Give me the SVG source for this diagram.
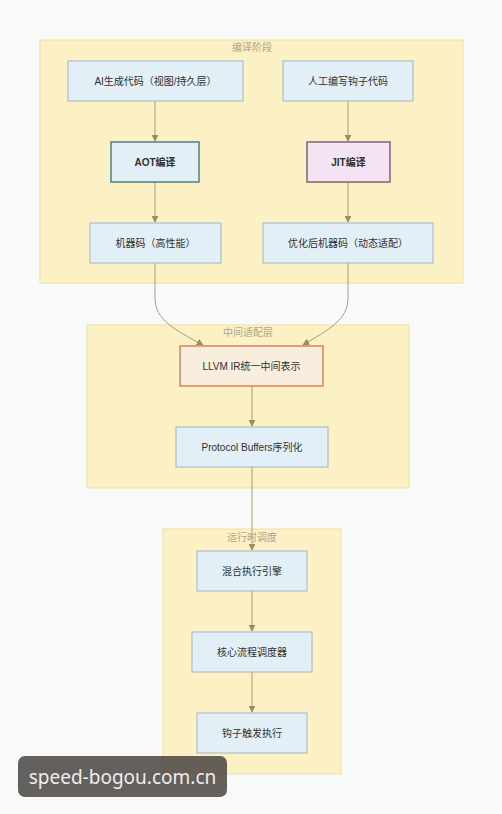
<svg xmlns="http://www.w3.org/2000/svg" width="502" height="814" viewBox="0 0 502 814">
<style>
.cl{fill:#fbf1c4;stroke:#efe0a0;stroke-width:1}
.ct{font-family:"Noto Sans CJK SC","Liberation Sans",sans-serif;font-size:10px;fill:#b0a68a;text-anchor:middle}
.n{fill:#e2eff7;stroke:#9fb5c6;stroke-width:1}
.t{font-family:"Liberation Sans","Noto Sans CJK SC",sans-serif;font-size:10px;fill:#2f2f2f;text-anchor:middle;dominant-baseline:central}
.b{font-weight:bold}
.e{fill:none;stroke:#a89c78;stroke-width:1}
</style>
<defs>
<marker id="ah" viewBox="0 0 10 10" refX="9" refY="5" markerWidth="7" markerHeight="7" orient="auto-start-reverse" markerUnits="userSpaceOnUse">
<path d="M0,0 L10,5 L0,10 z" fill="#9c8d5e"/>
</marker>
</defs>
<rect width="502" height="814" fill="#f8faf9"/>
<g id="cluster-compile">
<rect class="cl" x="40" y="40" width="423" height="243"/>
<text class="ct" x="252" y="51">编译阶段</text>
</g>
<g id="cluster-middle">
<rect class="cl" x="87" y="325" width="322" height="163"/>
<text class="ct" x="248" y="336">中间适配层</text>
</g>
<g id="cluster-runtime">
<rect class="cl" x="163" y="529" width="178" height="245"/>
<text class="ct" x="252" y="541">运行时调度</text>
</g>
<g id="connectors">
<path class="e" d="M155,101 V141" marker-end="url(#ah)"/>
<path class="e" d="M155,182 V222" marker-end="url(#ah)"/>
<path class="e" d="M348,101 V141" marker-end="url(#ah)"/>
<path class="e" d="M348,182 V222" marker-end="url(#ah)"/>
<path class="e" d="M155,263 V298 C155,320 175,330 203,345" marker-end="url(#ah)"/>
<path class="e" d="M348,263 V298 C348,320 328,330 303,345" marker-end="url(#ah)"/>
<path class="e" d="M252,386 V426" marker-end="url(#ah)"/>
<path class="e" d="M252,467 V550" marker-end="url(#ah)"/>
<path class="e" d="M252,591 V631" marker-end="url(#ah)"/>
<path class="e" d="M252,672 V712" marker-end="url(#ah)"/>
</g>
<g id="node-ai">
<rect class="n" x="68" y="61" width="175" height="40"/>
<text class="t" x="155.5" y="81">AI生成代码（视图/持久层）</text>
</g>
<g id="node-manual">
<rect class="n" x="283" y="61" width="130" height="40"/>
<text class="t" x="348" y="81">人工编写钩子代码</text>
</g>
<g id="node-aot">
<rect x="111" y="142" width="88" height="40" fill="#e2eff7" stroke="#4f7f86" stroke-width="1.5"/>
<text class="t b" x="155" y="162">AOT编译</text>
</g>
<g id="node-jit">
<rect x="307" y="142" width="83" height="40" fill="#f4e3f2" stroke="#7d6379" stroke-width="1.5"/>
<text class="t b" x="348.5" y="162">JIT编译</text>
</g>
<g id="node-mc">
<rect class="n" x="90" y="223" width="131" height="40"/>
<text class="t" x="155.5" y="243">机器码（高性能）</text>
</g>
<g id="node-omc">
<rect class="n" x="263" y="223" width="170" height="40"/>
<text class="t" x="348" y="243">优化后机器码（动态适配）</text>
</g>
<g id="node-llvm">
<rect x="180" y="346" width="143" height="40" fill="#f9eddd" stroke="#d9845a" stroke-width="1.5"/>
<text class="t" x="251.5" y="366">LLVM IR统一中间表示</text>
</g>
<g id="node-pb">
<rect class="n" x="176" y="427" width="152" height="40"/>
<text class="t" x="252" y="447">Protocol Buffers序列化</text>
</g>
<g id="node-hybrid">
<rect class="n" x="197" y="551" width="110" height="40"/>
<text class="t" x="252" y="571">混合执行引擎</text>
</g>
<g id="node-sched">
<rect class="n" x="192" y="632" width="120" height="40"/>
<text class="t" x="252" y="652">核心流程调度器</text>
</g>
<g id="node-hook">
<rect class="n" x="197" y="713" width="110" height="40"/>
<text class="t" x="252" y="733">钩子触发执行</text>
</g>
<g id="watermark">
<rect x="18" y="756" width="209" height="41" rx="7" fill="#4a4442" fill-opacity="0.85"/>
<text x="122.5" y="777" font-family="'Noto Sans','DejaVu Sans',sans-serif" font-size="19" fill="#eeeeee" text-anchor="middle" dominant-baseline="central">speed-bogou.com.cn</text>
</g>
</svg>
